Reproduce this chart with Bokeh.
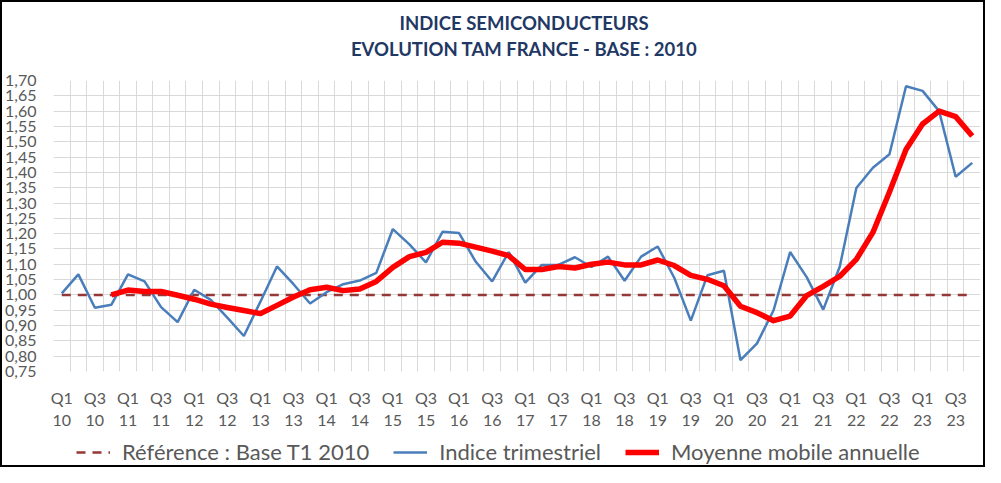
import numpy as np
from bokeh.plotting import figure
from bokeh.layouts import column
from bokeh.core.properties import value
from bokeh.models import (ColumnDataSource, FixedTicker, CustomJSTickFormatter,
                          Legend, LegendItem, Range1d)
from bokeh.embed import file_html
from bokeh.resources import INLINE

years = ["10", "11", "12", "13", "14", "15", "16", "17", "18", "19", "20", "21", "22", "23"]
quarters = [f"Q{q}\n{y}" for y in years for q in (1, 2, 3, 4)]

indice_trimestriel = [
    1.005, 1.067, 0.958, 0.968, 1.067, 1.044, 0.960, 0.911, 1.017, 0.984,
    0.926, 0.866, 0.978, 1.093, 1.035, 0.972, 1.009, 1.035, 1.047, 1.072,
    1.215, 1.165, 1.106, 1.206, 1.202, 1.109, 1.044, 1.140, 1.040, 1.098,
    1.098, 1.123, 1.091, 1.125, 1.046, 1.125, 1.158, 1.056, 0.916, 1.064,
    1.079, 0.787, 0.842, 0.950, 1.140, 1.058, 0.952, 1.093, 1.349, 1.415,
    1.459, 1.681, 1.666, 1.600, 1.386, 1.431,
]
moyenne_mobile = [
    np.nan, np.nan, np.nan, 1.000, 1.016, 1.011, 1.011, 0.999, 0.986, 0.970,
    0.959, 0.949, 0.939, 0.966, 0.993, 1.017, 1.025, 1.014, 1.019, 1.044,
    1.090, 1.125, 1.139, 1.172, 1.169, 1.156, 1.143, 1.128, 1.083, 1.083,
    1.093, 1.088, 1.100, 1.107, 1.098, 1.098, 1.114, 1.096, 1.064, 1.051,
    1.030, 0.963, 0.942, 0.916, 0.931, 0.998, 1.028, 1.061, 1.116, 1.204,
    1.336, 1.475, 1.558, 1.600, 1.582, 1.519,
]
reference = [1.0] * len(quarters)

title_lines = ["INDICE SEMICONDUCTEURS", "EVOLUTION TAM FRANCE - BASE : 2010"]
legend_labels = ["Référence : Base T1 2010", "Indice trimestriel", "Moyenne mobile annuelle"]
y_ticks = [round(0.75 + 0.05 * k, 2) for k in range(20)]

FONT = "Lato"
GREY = "#595959"
STYLES = [dict(line_color="#953735", line_width=2.5, line_dash="9 7"),
          dict(line_color="#4A7EBB", line_width=2.5),
          dict(line_color="#FF0000", line_width=5.5, line_join="round")]


def strip(h):
    f = figure(width=981, height=h, output_backend="svg", toolbar_location=None,
               x_range=Range1d(0, 981), y_range=Range1d(0, h),
               min_border_left=0, min_border_right=0, min_border_top=0, min_border_bottom=0)
    f.axis.visible = False
    f.grid.visible = False
    f.outline_line_color = None
    f.border_fill_color = "white"
    return f


# title strip
pt = strip(60)
pt.text(x=[498, 498], y=[40, 14], text=title_lines, text_align="center",
        text_baseline="middle", text_font=value(FONT), text_font_style="bold",
        text_font_size="18.5px", text_color="#1F3864")

# main chart
x = list(range(len(quarters)))
src = ColumnDataSource(dict(x=x, ind=indice_trimestriel, mm=moyenne_mobile, ref=reference))

p = figure(width=981, height=370, output_backend="svg", toolbar_location=None,
           x_range=Range1d(-0.5, len(quarters) - 0.5), y_range=Range1d(0.75, 1.70),
           min_border_left=51, min_border_right=3, min_border_top=18, min_border_bottom=52)
p.title = None
p.outline_line_color = None
p.background_fill_color = "white"
p.border_fill_color = "white"

p.line("x", "ref", source=src, **STYLES[0])
p.line("x", "ind", source=src, **STYLES[1])
p.line("x", "mm", source=src, **STYLES[2])

p.xgrid.ticker = FixedTicker(ticks=[i - 0.5 for i in range(len(quarters) + 1)])
p.ygrid.ticker = FixedTicker(ticks=y_ticks)
for g in (p.xgrid, p.ygrid):
    g.grid_line_color = "#D9D9D9"
    g.grid_line_width = 1

p.xaxis.ticker = FixedTicker(ticks=list(range(0, len(quarters), 2)))
p.xaxis.major_label_overrides = {i: quarters[i] for i in range(0, len(quarters), 2)}
p.yaxis.ticker = FixedTicker(ticks=y_ticks)
p.yaxis.formatter = CustomJSTickFormatter(code="return tick.toFixed(2).replace('.', ',');")
for ax in (p.xaxis, p.yaxis):
    ax.axis_line_color = None
    ax.major_tick_line_color = None
    ax.minor_tick_line_color = None
    ax.major_label_text_color = GREY
    ax.major_label_text_font = FONT
p.xaxis.major_label_text_font_size = "16px"
p.yaxis.major_label_text_font_size = "16px"
p.xaxis.major_label_standoff = 10
p.yaxis.major_label_standoff = 11

# legend strip
pl = strip(33)
items = []
for lab, st in zip(legend_labels, STYLES):
    r = pl.line(x=[np.nan], y=[np.nan], **st)
    items.append(LegendItem(label=lab, renderers=[r]))
legend = Legend(items=items, orientation="horizontal", location=(23, 0))
legend.label_text_font = FONT
legend.label_text_font_size = "22px"
legend.label_text_color = GREY
legend.glyph_width = 34
legend.label_standoff = 12
legend.spacing = 24
legend.padding = 0
legend.margin = 0
legend.border_line_color = None
legend.background_fill_alpha = 0
pl.add_layout(legend, "center")

layout = column(pt, p, pl, spacing=0, styles={"border": "2px solid black", "background": "white"})

open("out.html", "w").write(file_html(layout, INLINE))
